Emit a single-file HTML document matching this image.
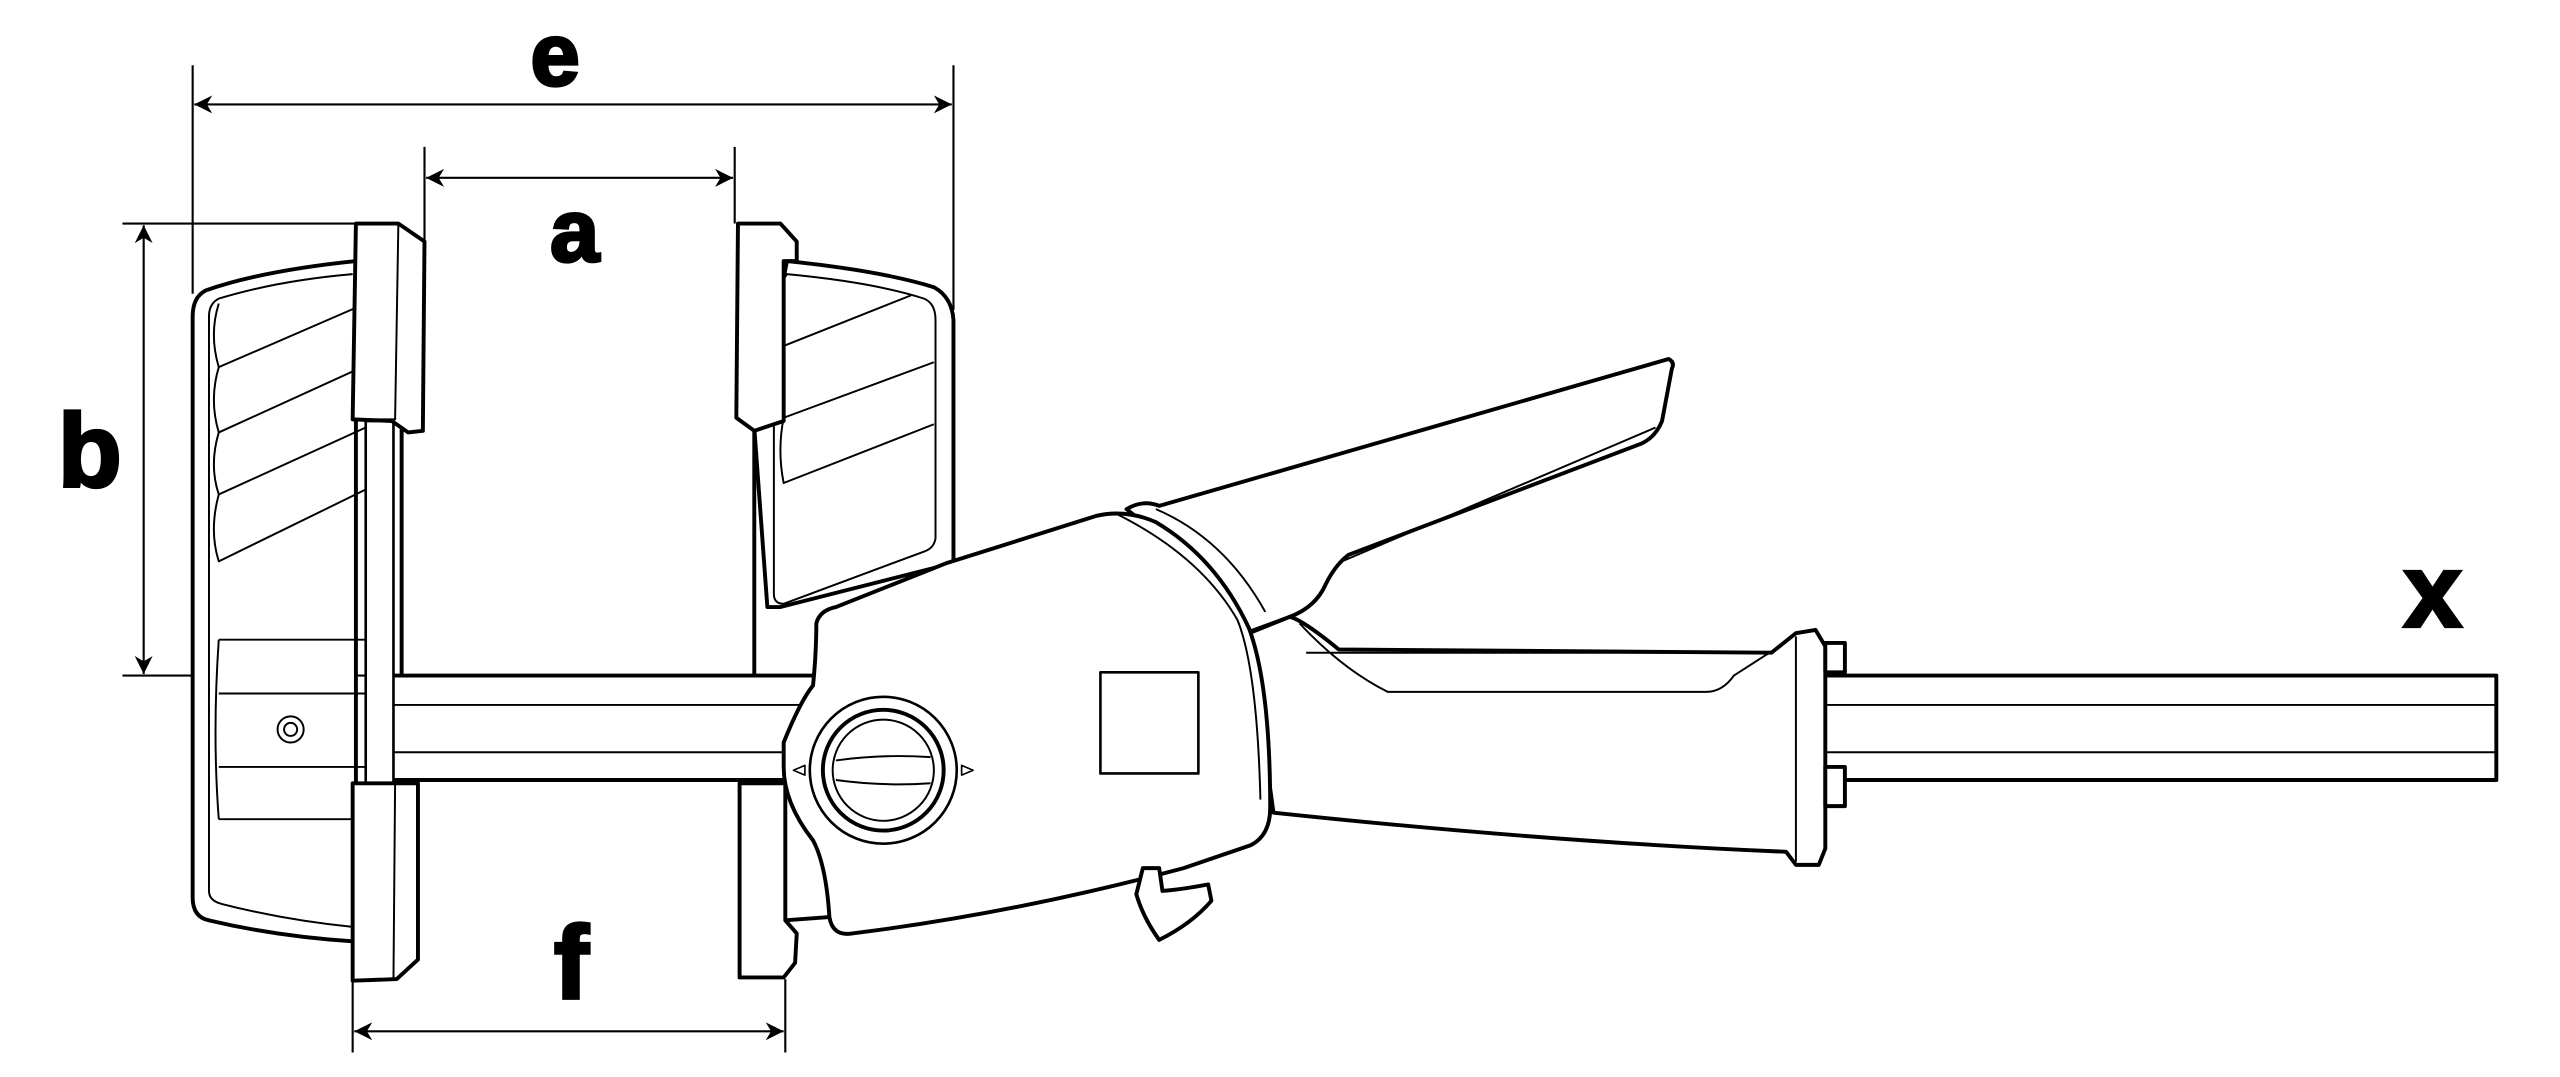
<!DOCTYPE html>
<html><head><meta charset="utf-8"><style>
html,body{margin:0;padding:0;background:#fff;width:2560px;height:1077px;overflow:hidden}
svg{display:block}
text{font-family:"Liberation Sans",Arial,sans-serif;font-weight:bold;fill:#000}
</style></head><body>
<svg width="2560" height="1077" viewBox="0 0 1568 660" preserveAspectRatio="none" xmlns="http://www.w3.org/2000/svg">
<defs>
<marker id="ar" viewBox="0 0 10 10" refX="10" refY="5" markerWidth="17" markerHeight="11" orient="auto-start-reverse" markerUnits="userSpaceOnUse">
<path d="M0,0 L10,5 L0,10 L3,5 Z" fill="#000"/></marker>
</defs>
<g stroke="#000" fill="none" stroke-width="1.3">
<line x1="118" y1="40" x2="118" y2="180"/><line x1="584" y1="40" x2="584" y2="190"/>
<line x1="119" y1="64" x2="583" y2="64" marker-start="url(#ar)" marker-end="url(#ar)"/>
<line x1="260" y1="90" x2="260" y2="150"/><line x1="450" y1="90" x2="450" y2="137"/>
<line x1="261" y1="109" x2="449" y2="109" marker-start="url(#ar)" marker-end="url(#ar)"/>
<line x1="75" y1="137" x2="222" y2="137"/><line x1="75" y1="414" x2="245" y2="414"/>
<line x1="88" y1="138" x2="88" y2="413" marker-start="url(#ar)" marker-end="url(#ar)"/>
<line x1="216" y1="600" x2="216" y2="645"/><line x1="481" y1="600" x2="481" y2="645"/>
<line x1="217" y1="632" x2="480" y2="632" marker-start="url(#ar)" marker-end="url(#ar)"/>
</g>
<text x="340" y="52" font-size="54" text-anchor="middle" stroke="#000" stroke-width="2">e</text>
<text x="352" y="160" font-size="54" text-anchor="middle" stroke="#000" stroke-width="2">a</text>
<text x="55" y="298" font-size="64" text-anchor="middle" stroke="#000" stroke-width="2">b</text>
<text x="350" y="612" font-size="64" text-anchor="middle" stroke="#000" stroke-width="2">f</text>
<text x="1490" y="384" font-size="64" text-anchor="middle" stroke="#000" stroke-width="2">x</text>

<g stroke="#000" fill="#fff" stroke-width="2.4" stroke-linejoin="round">
<rect x="238" y="414" width="1291" height="64"/>
<g stroke-width="1.2"><line x1="238" y1="432" x2="1529" y2="432"/><line x1="238" y1="461" x2="1529" y2="461"/></g>
<path d="M218,160 Q160,166 126,178 Q118,182 118,194 L118,550 Q118,562 128,564 Q170,574 218,577 Z"/>
<path stroke-width="1.2" d="M216,168 Q170,172 134,183 Q128,186 128,194 L128,546 Q128,552 136,554 Q175,564 216,568"/>
<g stroke-width="1.2" fill="none">
<path d="M134,186 Q128,205 134,225 L224,186"/><path d="M134,225 Q128,245 134,265 L224,224"/>
<path d="M134,265 Q128,285 134,303 L224,262"/><path d="M134,303 Q128,325 134,344 L224,300"/>
<path d="M134,392 L224,392 M134,425 L224,425 M134,470 L224,470 M134,502 L224,502"/>
<path d="M134,392 Q130,450 134,502"/>
<circle cx="178" cy="447" r="8"/><circle cx="178" cy="447" r="4"/>
</g>
<rect x="224" y="258" width="17" height="222" stroke-width="1.6"/>
<line x1="246" y1="262" x2="246" y2="414"/>
<path d="M218,137 L244,137 L260,148 L259,264 L250,265 L240,258 L216,257 Z"/>
<path stroke-width="1.2" fill="none" d="M244,137 L242,257 L216,257"/>
<path d="M216,480 L256,480 L256,588 L243,600 L216,601 Z"/>
<path stroke-width="1.2" fill="none" d="M242,480 L241,600"/>
<path d="M482,160 Q540,166 572,176 Q583,182 584,196 L584,345 L478,372 L470,372 L462,262 Z"/>
<path stroke-width="1.2" d="M482,168 Q535,173 566,183 Q573,186 573,196 L573,330 Q572,336 566,338 L480,370 Q474,370 474,364 L474,180 Z"/>
<g stroke-width="1.2" fill="none">
<path d="M480,212 L558,181"/><path d="M480,212 Q476,232 480,256 L572,222"/>
<path d="M480,256 Q476,276 480,296 L572,260"/>
</g>
<line x1="462" y1="262" x2="462" y2="414"/>
<path d="M452,137 L478,137 L488,148 L488,160 L480,160 L480,258 L462,264 L451,256 Z"/>
<path d="M453,480 L481,480 L481,564 L488,572 L487,590 L480,599 L453,599 Z"/>
<path d="M690,312 Q700,306 710,310 L1022,220 Q1026,222 1024,226 L1018,258 Q1014,268 1005,272 L826,340 Q818,346 812,358 Q806,372 790,378 L763,388 L740,352 Z"/>
<path stroke-width="1.2" fill="none" d="M708,312 Q750,330 775,375 M822,344 L1014,262"/>
<path d="M765,388 L790,378 Q798,380 820,398 L1085,400 L1100,388 L1112,386 L1118,396 L1118,520 L1114,530 L1100,530 L1094,522 Q950,516 780,498 Z"/>
<path stroke-width="1.2" fill="none" d="M796,382 Q822,410 850,424 L1045,424 Q1055,424 1062,414 L1090,396 M1100,390 L1100,528 M800,400 L1085,400"/>
<rect x="1118" y="394" width="12" height="18"/><rect x="1118" y="470" width="12" height="24"/>
<path d="M500,382 Q502,374 512,372 L580,345 L672,316 Q690,312 708,320 Q745,342 765,385 Q778,420 778,495 Q778,512 766,518 L725,532 Q620,560 522,572 Q510,574 508,562 Q506,530 498,515 Q480,492 480,470 L480,455 Q490,430 498,420 Q500,400 500,382 Z"/>
<path stroke-width="1.2" fill="none" d="M682,314 Q735,340 758,380 Q770,410 772,490"/>
<rect x="674" y="412" width="60" height="62" stroke-width="1.6"/>
<circle cx="541" cy="472" r="45" stroke-width="1.6"/>
<circle cx="541" cy="472" r="37" stroke-width="2.4"/>
<circle cx="541" cy="472" r="31" stroke-width="1.2"/>
<path stroke-width="1.2" fill="none" d="M512,466 Q541,462 570,464 M512,478 Q541,482 570,480"/>
<path stroke-width="1" d="M486,472 L493,469 L493,475 Z M596,472 L589,469 L589,475 Z"/>
<path d="M481,564 L508,562"/>
<path d="M700,532 L696,548 Q700,562 710,576 Q730,566 742,552 L740,542 Q724,545 712,546 L710,532 Z"/>
</g>
</svg>
</body></html>
